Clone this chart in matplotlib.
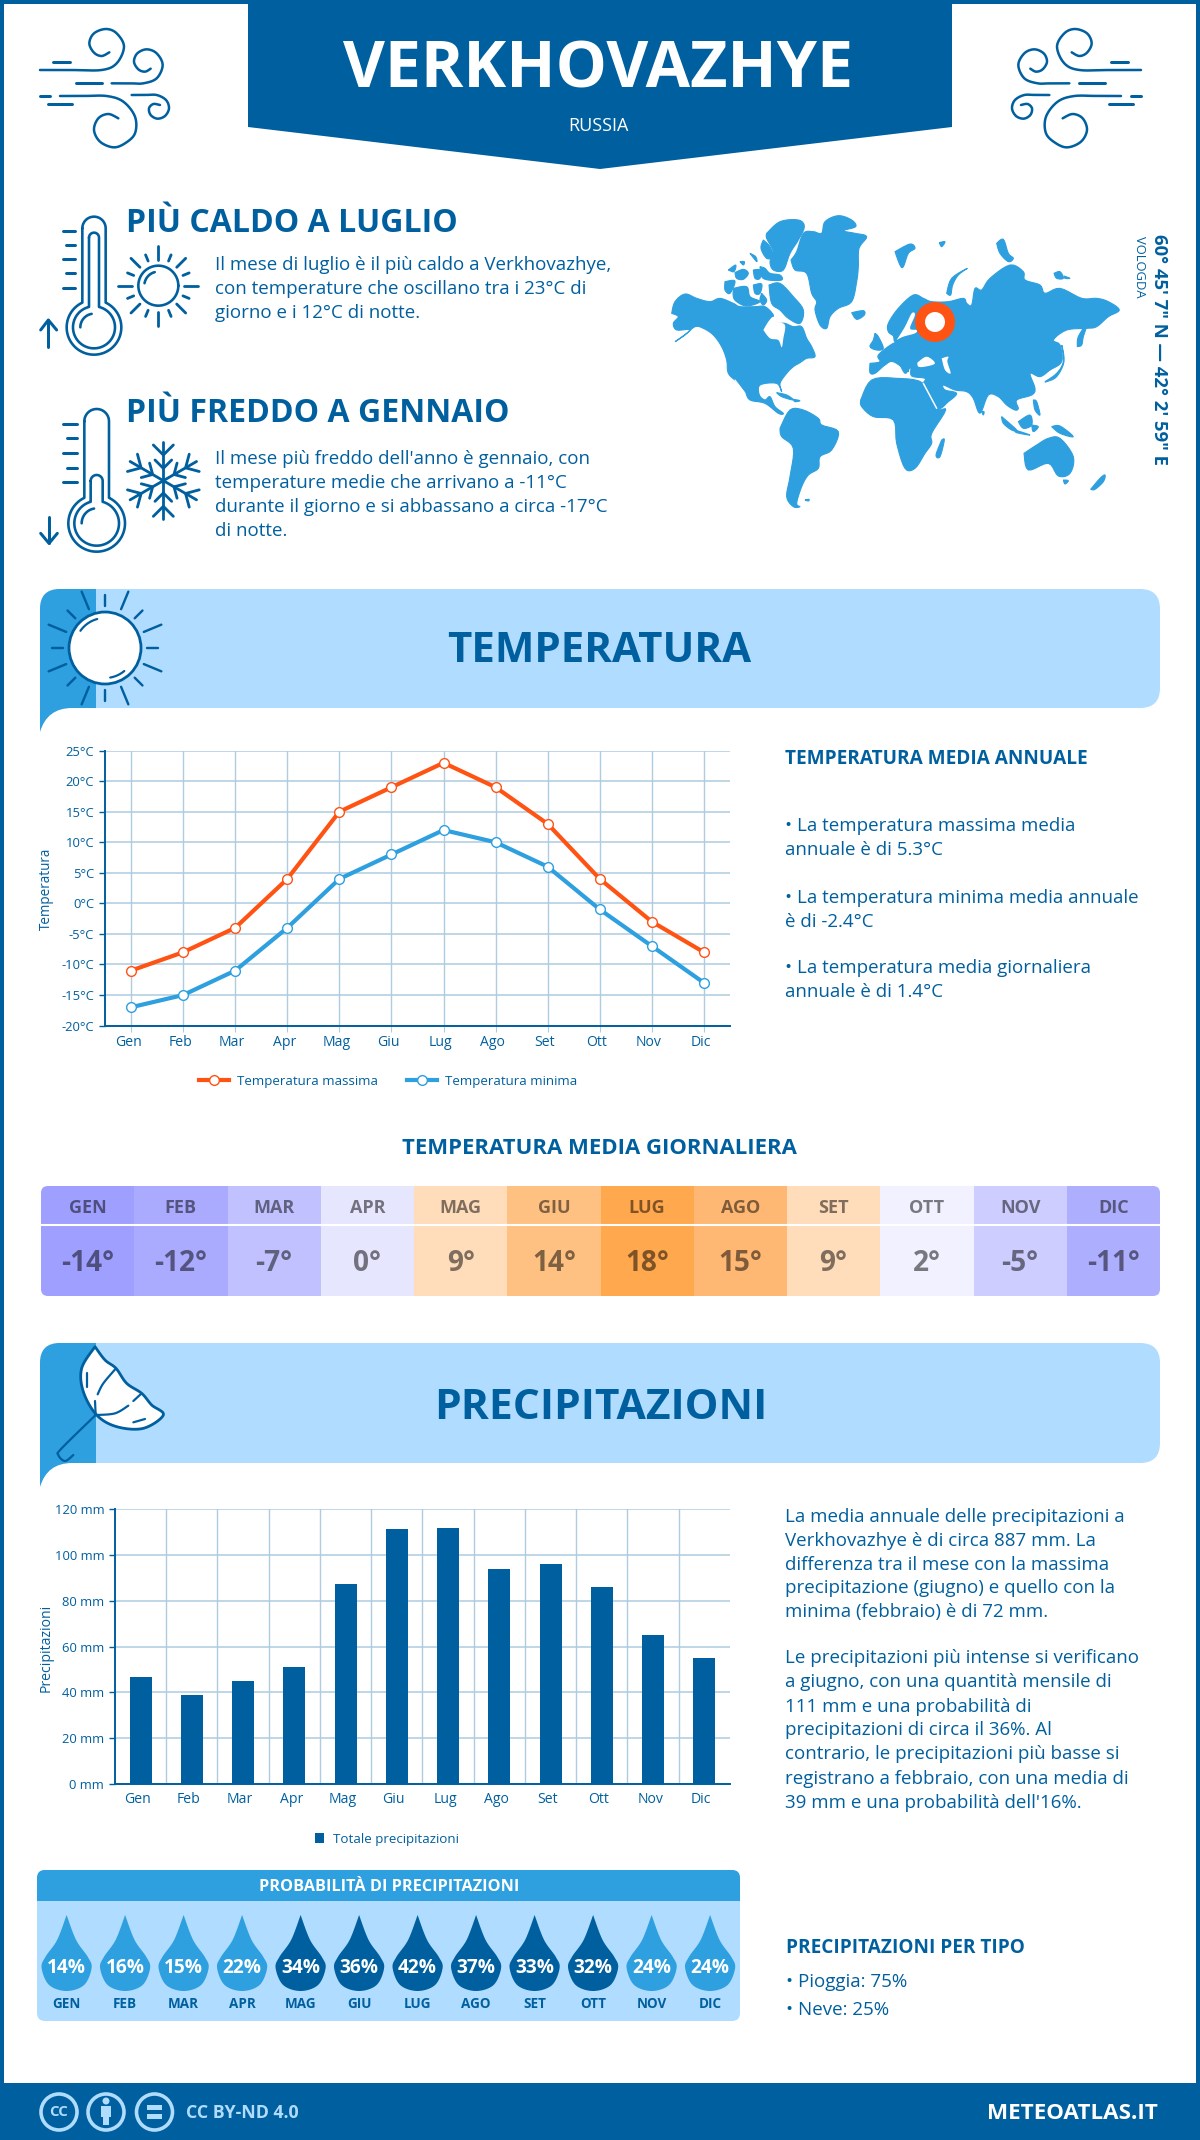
import numpy as np
import matplotlib
matplotlib.use("Agg")
import matplotlib.pyplot as plt
from matplotlib.patches import Polygon, Circle, Rectangle, FancyBboxPatch, PathPatch
from matplotlib.path import Path
from matplotlib.transforms import ScaledTranslation

plt.rcParams['font.family'] = ['Open Sans', 'DejaVu Sans']

months = ['Gen','Feb','Mar','Apr','Mag','Giu','Lug','Ago','Set','Ott','Nov','Dic']
months_up = [m.upper() for m in months]
temp_max = [-11,-8,-4,4,15,19,23,19,13,4,-3,-8]
temp_min = [-17,-15,-11,-4,4,8,12,10,6,-1,-7,-13]
temp_mean = [-14,-12,-7,0,9,14,18,15,9,2,-5,-11]
mean_cols = ['#9f9fff','#aaaaff','#c1c1ff','#e6e6ff','#ffddbb','#ffc182','#ffa84e','#ffb873','#ffddbb','#f1f1ff','#cdcdff','#aeaeff']
precip = [46.7,39,45,51,87.5,111.2,111.7,94,96.2,86,65,55]
prob = [14,16,15,22,34,36,42,37,33,32,24,24]

DARK='#005f9e'; MID='#2e9fdf'; LIGHT='#b0dcff'; ORANGE='#ff5314'; GRID='#aecbe0'; WHITE='white'
W,H=1200,2140
BODY=18.8
def fs(px): return px*0.72

fig=plt.figure(figsize=(12,21.4),dpi=100,facecolor='white')
bg=fig.add_axes([0,0,1,1]); bg.set_xlim(0,W); bg.set_ylim(H,0); bg.axis('off')

def T(x,y,s,px,color=DARK,weight='normal',ha='left',va='center',**k):
    if 'rotation' not in k: y=y+0.09*px
    return bg.text(x,y,s,fontsize=fs(px),color=color,fontweight=weight,ha=ha,va=va,**k)
def cr(pts,n=14):
    P=np.array(pts,float); P=np.vstack([P[0],P,P[-1]]); out=[]
    for i in range(1,len(P)-2):
        for t in np.linspace(0,1,n,endpoint=False):
            a,b,c,d=P[i-1],P[i],P[i+1],P[i+2]
            out.append(0.5*(2*b+(c-a)*t+(2*a-5*b+4*c-d)*t*t+(3*b-a-3*c+d)*t**3))
    out.append(P[-2]); return np.array(out)
def L(pts,lw=2.5,color=DARK,z=3):
    p=np.array(pts,float)
    bg.plot(p[:,0],p[:,1],color=color,lw=lw*0.72,solid_capstyle='round',solid_joinstyle='round',zorder=z)
def tr(pts,ox,oy,s=3.0,mirror=None):
    p=np.array(pts,float); x=ox+p[:,0]/s; y=oy+p[:,1]/s
    if mirror is not None: x=mirror-x
    return np.c_[x,y]
def arc(cx,cy,r,a0,a1,n=60):
    a=np.radians(np.linspace(a0,a1,n)); return np.c_[cx+r*np.cos(a),cy-r*np.sin(a)]

# frame, header and footer
for r in [(0,0,W,3.5),(0,0,4,H),(W-4,0,4,H)]:
    bg.add_patch(Rectangle(r[:2],r[2],r[3],fc=DARK,ec='none',zorder=1))
bg.add_patch(Polygon([(248,0),(952,0),(952,127),(600,169),(248,127)],fc=DARK,ec='none',zorder=2))
bg.add_patch(Rectangle((0,2083),W,57,fc=DARK,ec='none',zorder=2))
T(598,65,'VERKHOVAZHYE',64.5,WHITE,'bold','center',zorder=4)
T(598,124,'RUSSIA',18,WHITE,'normal','center',zorder=4)

# wind icons
wind_curves=[[(60,180),(150,180),(245,180),(290,160),(312,110),(290,70),(258,57),(222,70),(208,100),(222,128),(245,138),(268,127)],
 [(275,220),(330,220),(370,220),(410,205),(428,165),(410,130),(380,118),(352,130),(342,155),(355,178),(375,185),(392,176)],
 [(120,258),(190,258),(260,258),(310,275),(345,320),(345,370),(315,400),(280,412),(240,395),(222,360),(235,325),(265,312),(295,325)],
 [(335,255),(375,255),(410,255),(438,270),(447,295),(435,318),(412,326),(392,315),(387,295),(400,282),(420,285)]]
wind_lines=[[(98,155),(150,155)],[(168,220),(245,220)],[(60,258),(90,258)],[(85,283),(155,283)]]
for mir in (None,1181):
    for c in wind_curves: L(tr(cr(c),20,10,mirror=mir))
    for c in wind_lines: L(tr(c,20,10,mirror=mir),3)

# thermometers
def thermo(ox,oy,cx,top,hw,neck,bcy,R,itop,ihw,ineck,r):
    def shape(t,h,nk,rad):
        th=np.degrees(np.arcsin(h/rad))
        a=arc(cx,t+h,h,180,0,30)
        b=arc(cx,bcy,rad,90-th,-270+th,90)
        return np.vstack([a,[(cx+h,nk)],b,[(cx-h,nk)],a[:1]])
    L(tr(shape(top,hw,neck,R),ox,oy),2.6)
    L(tr(shape(itop,ihw,ineck,r),ox,oy),2.6)
    L(tr(arc(cx,bcy,r-22,100,180,20),ox,oy),2.6)
thermo(20,200,222,50,35,305,382,82,98,15,318,63)
thermo(20,395,230,42,37,308,385,85,240,18,320,67)
for i,y in enumerate([92,135,178,220,263]):
    L(tr([(128 if i%2==0 else 138,y),(165,y)],20,200),3)
for i,y in enumerate([86,130,174,218,262]):
    L(tr([(130 if i%2==0 else 140,y),(170,y)],20,395),3)
L(tr([(85,440),(85,360)],20,200),3); L(tr([(62,390),(85,360),(110,390)],20,200),3)
L(tr([(87,365),(87,445)],20,395),3); L(tr([(62,415),(87,445),(112,415)],20,395),3)

# small sun
L(tr(arc(415,257,60,0,360),20,200),2.6)
L(tr(arc(415,257,42,105,170,20),20,200),2.6)
for k in range(16):
    a=np.radians(k*22.5)
    if k%4==0: r0,r1=78,120
    elif k%4==2: r0,r1=78,116
    else: r0,r1=80,100
    L(tr([(415+r0*np.cos(a),257-r0*np.sin(a)),(415+r1*np.cos(a),257-r1*np.sin(a))],20,200),2.8)
# snowflake
flake=[[(0,0),(0,-115)],[(-30,-107),(0,-77),(30,-107)],[(-25,-62),(0,-37),(25,-62)]]
for k in range(6):
    a=np.radians(60*k); ca,sa=np.cos(a),np.sin(a)
    for seg in flake:
        L(tr([(430+x*ca-y*sa,257+x*sa+y*ca) for x,y in seg],20,395),2.8)

T(125.5,221,'PIÙ CALDO A LUGLIO',32,DARK,'bold')
T(125.5,411,'PIÙ FREDDO A GENNAIO',32,DARK,'bold')
for y,s in zip([263,287,311],['Il mese di luglio è il più caldo a Verkhovazhye,','con temperature che oscillano tra i 23°C di','giorno e i 12°C di notte.']):
    T(215,y,s,BODY)
for y,s in zip([457,481,505,529],["Il mese più freddo dell'anno è gennaio, con",'temperature medie che arrivano a -11°C','durante il giorno e si abbassano a circa -17°C','di notte.']):
    T(215,y,s,BODY)

# world map: west half traced in a frame at (665,210), east half at (860,230)
land_w=[
[(20,310),(30,275),(60,252),(95,265),(135,275),(165,265),(205,280),(225,290),(270,290),(300,290),(325,315),(320,330),(340,340),(360,340),(385,350),(410,350),(425,385),(440,410),(450,440),(425,445),(405,458),(385,470),(365,490),(345,520),(350,545),(335,520),(285,525),(283,555),(300,570),(315,560),(330,590),(355,610),(340,610),(300,580),(255,570),(240,545),(215,515),(190,490),(185,450),(170,410),(145,375),(115,355),(90,350),(60,375),(30,395),(75,360),(35,360),(25,340),(40,320)],
[(312,225),(345,220),(385,260),(415,300),(405,340),(370,325),(345,300),(320,280)],
[(205,235),(245,230),(255,260),(285,275),(245,288),(215,275),(205,260)],
[(180,215),(210,213),(195,250),(180,240)],
[(265,225),(290,222),(285,250),(270,250)],[(290,250),(305,270),(295,285),(285,270)],
[(190,180),(212,165),(207,185)],[(210,188),(235,178),(250,190),(235,208),(215,205)],[(225,155),(238,155),(235,165)],[(255,130),(272,140),(275,155)],
[(265,180),(285,180),(285,205),(270,205)],[(285,170),(300,175),(315,190),(345,195),(350,210),(310,210),(290,200)],
[(305,70),(345,35),(400,30),(418,50),(400,90),(375,130),(355,180),(325,180),(315,155),(325,125),(305,85)],
[(295,90),(315,110),(325,140),(305,145),(288,115)],
[(378,150),(395,125),(415,70),(445,65),(470,70),(480,35),(520,17),(560,30),(572,50),(535,62),(570,70),(605,80),(582,115),(580,170),(575,215),(560,275),(520,295),(495,320),(485,355),(465,345),(450,300),(455,275),(440,250),(425,190),(390,180)],
[(560,308),(595,302),(598,315),(575,328)],
[(345,655),(375,600),(415,600),(460,625),(470,645),(520,665),(500,720),(465,740),(460,775),(430,795),(410,830),(395,880),(405,890),(385,890),(365,860),(375,800),(385,715),(350,680)],
[(420,870),(432,868),(430,873)],[(335,548),(365,555),(385,570),(350,560)],[(385,568),(405,572),(390,575)],
]
water_w=[[(295,360),(310,335),(325,320),(335,335),(360,345),(355,385),(350,412),(340,390),(315,385)]]
land_e=[
[(30,400),(60,395),(55,375),(100,340),(130,335),(105,335),(100,318),(85,305),(85,280),(115,235),(160,195),(190,205),(215,215),(265,215),(310,205),(320,220),(335,225),(345,175),(365,180),(390,145),(450,105),(490,125),(495,150),(540,165),(555,190),(600,175),(665,205),(710,205),(745,215),(778,240),(745,260),(710,290),(680,295),(620,300),(580,330),(600,345),(605,395),(570,420),(540,440),(510,430),(525,475),(515,495),(470,510),(475,535),(465,540),(440,525),(415,500),(385,495),(360,550),(340,505),(320,485),(285,480),(250,465),(255,480),(290,490),(265,515),(232,535),(200,470),(190,460),(195,445),(155,438),(152,412),(135,430),(118,395),(145,425),(100,395),(75,405),(45,430),(30,428)],
[(2,510),(35,450),(110,445),(190,460),(230,535),(257,540),(215,610),(215,640),(195,670),(165,715),(135,715),(110,640),(100,570),(40,560),(5,530)],
[(245,630),(253,630),(240,680),(228,675)],
[(45,310),(55,320),(70,355),(50,360),(30,350),(40,330)],
[(105,65),(150,42),(165,55),(145,70),(130,110),(120,105)],[(238,38),(255,35),(245,50)],
[(260,190),(275,145),(322,115),(295,135),(278,165),(272,195)],
[(410,40),(430,28),(445,70),(460,85),(445,95),(420,70)],
[(582,130),(600,125),(610,145),(590,145)],[(612,138),(630,145),(615,145)],
[(652,350),(655,320),(682,280),(670,320),(665,345)],
[(555,455),(590,430),(610,395),(605,345),(612,395),(590,440),(560,455)],
[(365,545),(372,545),(370,555)],
[(425,560),(470,600),(455,600),(430,580)],[(465,600),(510,615),(470,608)],[(475,575),(510,555),(515,585),(490,595)],[(515,585),(535,590),(520,605)],
[(520,510),(530,515),(540,555),(525,540)],[(575,590),(600,588),(640,620),(600,610)],
[(492,670),(530,645),(565,625),(600,625),(640,680),(630,730),(595,738),(565,700),(505,720)],
[(610,750),(625,752),(615,762)],[(692,778),(720,745),(735,735),(730,755),(705,778)],
]
water_e=[[(172,398),(200,380),(225,400),(195,410),(175,410)],[(245,385),(265,380),(262,395),(272,430),(255,420)],
[(110,330),(135,290),(155,250),(165,255),(150,295),(170,300),(165,310),(130,320)]]
def blob(p):
    return cr(list(p)+[p[0]],5)
for p in land_w: bg.add_patch(Polygon(tr(blob(p),665,210),fc=MID,ec=MID,lw=0.8,zorder=2))
for p in land_e: bg.add_patch(Polygon(tr(blob(p),860,230),fc=MID,ec=MID,lw=0.8,zorder=2))
for p in water_w: bg.add_patch(Polygon(tr(blob(p),665,210),fc=WHITE,ec='none',zorder=3))
for p in water_e: bg.add_patch(Polygon(tr(blob(p),860,230),fc=WHITE,ec='none',zorder=3))
L(tr([(190,460),(230,535)],860,230),1.5,WHITE,3)
L(tr([(210,510),(240,550)],665,210),1.2,WHITE,3)
bg.add_patch(Circle((935,322),15,fc=WHITE,ec=ORANGE,lw=10*0.72,zorder=4))
T(1159,349.5,'60° 45\' 7" N — 42° 2\' 59" E',18.5,DARK,'bold','center',rotation=-90)
T(1139,267,'VOLOGDA',13,DARK,'normal','center',rotation=-90)

# section bands
def band(top,bot,tail):
    bg.add_patch(FancyBboxPatch((40,top),1120,bot-top,boxstyle='round,pad=0,rounding_size=20',fc=LIGHT,ec='none',zorder=1))
    v=[(40,tail),(40,top+20),(40,top),(60,top),(96,top),(96,bot),(72,bot),(47,bot),(40,tail),(40,tail)]
    c=[Path.MOVETO,Path.LINETO,Path.CURVE3,Path.CURVE3,Path.LINETO,Path.LINETO,Path.LINETO,Path.CURVE3,Path.CURVE3,Path.CLOSEPOLY]
    bg.add_patch(PathPatch(Path(v,c),fc=MID,ec='none',zorder=2))
band(589,708,732); band(1343,1463,1487)
T(599,648,'TEMPERATURA',42,DARK,'bold','center',zorder=4)
T(601,1405,'PRECIPITAZIONI',42.5,DARK,'bold','center',zorder=4)

# big sun
bg.add_patch(Circle((105,648),36,fc=WHITE,ec=DARK,lw=2,zorder=4))
L(arc(105,648,30,105,145,20),2.2,z=5); L(arc(105,648,30,-80,-50,20),2.2,z=5)
for k in range(16):
    a=np.radians(k*22.5); r0,r1=(42,53) if k%2==0 else (42,61)
    L([(105+r0*np.cos(a),648-r0*np.sin(a)),(105+r1*np.cos(a),648-r1*np.sin(a))],2.4,z=4)

# umbrella
edge=[(195,35),(225,75),(258,100),(290,145),(335,175),(365,210),(400,240),(340,280),(260,275),(200,240),(160,170),(155,100),(195,35)]
bg.add_patch(Polygon(tr(cr(edge),30,1335),fc=WHITE,ec=DARK,lw=2,joinstyle='round',zorder=4))
for c in [[(258,100),(220,145),(203,178)],[(195,198),(197,240)],[(335,175),(310,198)],[(295,212),(255,235),(200,240)],[(172,115),(172,155)],[(310,262),(345,252)],[(197,240),(95,340),(85,360),(105,378),(130,360)]]:
    L(tr(cr(c),30,1335),2.2,z=5)

# temperature chart
ax=fig.add_axes([105/W,1-1025.6/H,625/W,275/H]); ax.patch.set_alpha(0); ax.set_zorder(5)
x=np.arange(12)
def style(a):
    for s in ('top','right'): a.spines[s].set_visible(False)
    for s in ('left','bottom'): a.spines[s].set_color(DARK); a.spines[s].set_linewidth(1.4)
    a.set_axisbelow(True)
    a.tick_params(axis='y',colors=DARK,length=4.3,width=1,labelsize=fs(13),pad=3.5)
    a.tick_params(axis='x',colors=DARK,length=0,labelsize=fs(14))
    a.yaxis.grid(True,color=GRID,lw=1.1)
def shift_labels(a):
    off=ScaledTranslation(-3/100,0,fig.dpi_scale_trans)
    for t in a.get_xticklabels(): t.set_transform(t.get_transform()+off)
ax.set_xlim(-0.5,11.5); ax.set_ylim(-20,25)
ax.plot(x,temp_max,color=ORANGE,lw=3,marker='o',ms=7,mfc=WHITE,mec=ORANGE,mew=1,label='Temperatura massima',zorder=4)
ax.plot(x,temp_min,color=MID,lw=3,marker='o',ms=7,mfc=WHITE,mec=MID,mew=1,label='Temperatura minima',zorder=4)
style(ax)
ax.set_xticks(x,months); ax.xaxis.grid(True,color=GRID,lw=1)
ax.tick_params(axis='x',length=4,color=GRID,pad=3,labelcolor=DARK)
shift_labels(ax)
ax.set_yticks(range(-20,30,5),[f'{v}°C' for v in range(-20,30,5)])
ax.legend(loc='center',bbox_to_anchor=(388/W,1-1081/H),bbox_transform=fig.transFigure,ncol=2,frameon=False,
          fontsize=fs(13.3),labelcolor=DARK,handlelength=2.25,columnspacing=2.15,handletextpad=0.6)
T(46,889,'Temperatura',13.5,DARK,'normal','center',rotation=90,zorder=6)

# table of daily means
T(599,1147,'TEMPERATURA MEDIA GIORNALIERA',22.2,DARK,'bold','center')
clip=FancyBboxPatch((41,1186),1119,110,boxstyle='round,pad=0,rounding_size=7',fc='none',ec='none'); bg.add_patch(clip)
cw=1119/12
for i,(m,v,c) in enumerate(zip(months_up,temp_mean,mean_cols)):
    r=Rectangle((41+i*cw,1186),cw+0.5,110,fc=c,ec='none',zorder=2); bg.add_patch(r); r.set_clip_path(clip)
    cx=41+(i+.5)*cw
    T(cx,1206,m,18,'black','bold','center',alpha=0.5,zorder=3)
    T(cx,1261,f'{v}°',28,'black','bold','center',alpha=0.5,zorder=3)
bg.plot([41,1160],[1225,1225],color=WHITE,lw=1.5,zorder=3)

# temperature text
T(785,757,'TEMPERATURA MEDIA ANNUALE',19,DARK,'bold')
for y,s in zip([824,848,896,920,966,990],['• La temperatura massima media','annuale è di 5.3°C','• La temperatura minima media annuale','è di -2.4°C','• La temperatura media giornaliera','annuale è di 1.4°C']):
    T(785,y,s,BODY)

# precipitation chart
ax2=fig.add_axes([115/W,1-1784/H,615/W,274.7/H]); ax2.patch.set_alpha(0); ax2.set_zorder(5)
ax2.set_xlim(-0.5,11.5); ax2.set_ylim(0,120)
ax2.bar(x,precip,width=0.43,color=DARK,label='Totale precipitazioni',zorder=3)
style(ax2)
ax2.set_xticks(x,months)
ax2.tick_params(axis='x',length=0,pad=6)
shift_labels(ax2)
ax2.set_xticks(x[:-1]+0.5,minor=True); ax2.xaxis.grid(True,which='minor',color=GRID,lw=1)
ax2.tick_params(axis='x',which='minor',length=0)
ax2.set_yticks(range(0,140,20),[f'{v} mm' for v in range(0,140,20)])
ax2.legend(loc='center',bbox_to_anchor=(387/W,1-1839/H),bbox_transform=fig.transFigure,frameon=False,
           fontsize=fs(13.4),labelcolor=DARK,handlelength=0.65,handleheight=0.8,handletextpad=0.7)
T(46,1648,'Precipitazioni',14,DARK,'normal','center',rotation=90,zorder=6)

y0=1515.5; ys=[0,24,47.5,71,94.5,141,165,189.5,213,237,261.5,285.5]
lines=['La media annuale delle precipitazioni a','Verkhovazhye è di circa 887 mm. La','differenza tra il mese con la massima','precipitazione (giugno) e quello con la','minima (febbraio) è di 72 mm.','Le precipitazioni più intense si verificano','a giugno, con una quantità mensile di','111 mm e una probabilità di','precipitazioni di circa il 36%. Al','contrario, le precipitazioni più basse si','registrano a febbraio, con una media di',"39 mm e una probabilità dell'16%."]
for d,s in zip(ys,lines): T(785,y0+d,s,BODY)

# probability panel
pan=FancyBboxPatch((37,1870),703,151,boxstyle='round,pad=0,rounding_size=8',fc=LIGHT,ec='none',zorder=1); bg.add_patch(pan)
hd=Rectangle((37,1870),703,31,fc=MID,ec='none',zorder=2); bg.add_patch(hd); hd.set_clip_path(pan)
T(389,1886,'PROBABILITÀ DI PRECIPITAZIONI',16.2,WHITE,'bold','center',zorder=3)
def drop(cx,c):
    top,wy,bot,w=1915,1968,1991,25
    pts=[(cx,top),(cx+w*.38,top+25),(cx+w*.85,top+42),(cx+w,wy),(cx+w*.7,bot-6),(cx,bot),(cx-w*.7,bot-6),(cx-w,wy),(cx-w*.85,top+42),(cx-w*.38,top+25),(cx,top)]
    bg.add_patch(Polygon(cr(pts),fc=c,ec='none',zorder=2))
for i,(m,p) in enumerate(zip(months_up,prob)):
    cx=66.6+58.5*i
    drop(cx,DARK if p>=30 else MID)
    T(cx,1966,f'{p}%',19,WHITE,'bold','center',zorder=3)
    T(cx,2003,m,13.5,DARK,'bold','center',zorder=3)
T(786,1946,'PRECIPITAZIONI PER TIPO',19,DARK,'bold')
T(786,1980,'• Pioggia: 75%',BODY)
T(786,2008,'• Neve: 25%',BODY)

# footer
for cx in (59,106,154.5):
    bg.add_patch(Circle((cx,2112),18,fc='none',ec=LIGHT,lw=2.6,zorder=3))
T(59,2111,'CC',15,LIGHT,'bold','center',zorder=4)
bg.add_patch(Circle((106,2101),3.5,fc=LIGHT,ec='none',zorder=4))
bg.add_patch(Rectangle((101,2106),10,11,fc=LIGHT,ec='none',zorder=4)); bg.add_patch(Rectangle((103,2116),6,9,fc=LIGHT,ec='none',zorder=4))
bg.add_patch(Rectangle((147,2105),15,4.5,fc=LIGHT,ec='none',zorder=4)); bg.add_patch(Rectangle((147,2114),15,4.5,fc=LIGHT,ec='none',zorder=4))
T(186,2111,'CC BY-ND 4.0',17.7,LIGHT,'bold',zorder=4)
T(1158,2111,'METEOATLAS.IT',22.4,WHITE,'bold','right',zorder=4)

fig.savefig('out.png',dpi=100)
